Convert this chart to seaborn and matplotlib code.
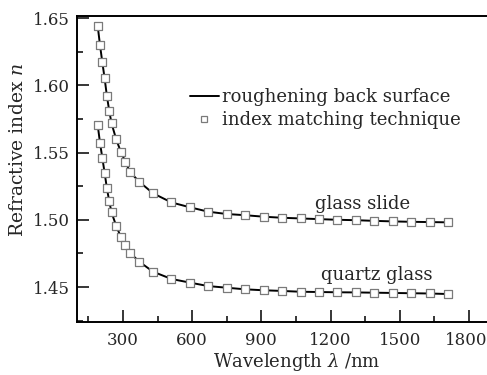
import numpy as np
import pandas as pd
import matplotlib
matplotlib.use("Agg")
import matplotlib.pyplot as plt
import matplotlib.transforms as mtransforms
from matplotlib.lines import Line2D
from matplotlib.ticker import MultipleLocator
import seaborn as sns

# wavelengths (nm) of the measured points, same for both samples
wavelength = [190, 200, 210, 220, 230, 240, 250, 270, 290, 310, 330, 370, 430, 510,
              590, 670, 750, 830, 910, 990, 1070, 1150, 1230, 1310, 1390, 1470,
              1550, 1630, 1710]

# refractive index
n_glass_slide = [1.6441, 1.6299, 1.6172, 1.6053, 1.5919, 1.5811, 1.5717, 1.5600,
                 1.5506, 1.5432, 1.5356, 1.5283, 1.5197, 1.5129, 1.5093, 1.5060,
                 1.5043, 1.5034, 1.5023, 1.5015, 1.5010, 1.5005, 1.5000, 1.4997,
                 1.4992, 1.4988, 1.4985, 1.4983, 1.4981]
n_quartz = [1.5704, 1.5573, 1.5461, 1.5350, 1.5233, 1.5139, 1.5055, 1.4956,
            1.4874, 1.4813, 1.4755, 1.4689, 1.4614, 1.4560, 1.4533, 1.4507,
            1.4495, 1.4483, 1.4476, 1.4471, 1.4465, 1.4463, 1.4461, 1.4460,
            1.4458, 1.4456, 1.4454, 1.4452, 1.4448]

x_ticks = [300, 600, 900, 1200, 1500, 1800]
y_ticks = [1.45, 1.50, 1.55, 1.60, 1.65]

sample_names = ["glass slide", "quartz glass"]
legend_labels = ["roughening back surface", "index matching technique"]

df = pd.concat([
    pd.DataFrame({"wavelength": wavelength, "n": n_glass_slide, "sample": sample_names[0]}),
    pd.DataFrame({"wavelength": wavelength, "n": n_quartz, "sample": sample_names[1]}),
])

sns.set_style("ticks")
plt.rcParams["font.family"] = ["DejaVu Serif"]
plt.rcParams["mathtext.fontset"] = "dejavuserif"
plt.rcParams["font.size"] = 13

fig = plt.figure(figsize=(4.87, 3.75), dpi=100)
ax = fig.add_axes([0.158, 0.1413, 0.852, 0.816])

# fitted curves
sns.lineplot(data=df, x="wavelength", y="n", hue="sample", palette=["black", "black"],
             estimator=None, linewidth=1.4, legend=False, ax=ax, zorder=2)
# measured points
sns.scatterplot(data=df, x="wavelength", y="n", marker="s", s=26, color="white",
                edgecolor="#7a7a7a", linewidth=0.9, legend=False, ax=ax, zorder=3)

ax.set_xlim(100, 1900)
ax.set_ylim(1.424, 1.6515)
ax.set_xticks(x_ticks)
ax.set_xticklabels([str(v) for v in x_ticks])
ax.set_yticks(y_ticks)
ax.set_yticklabels([f"{v:.2f}" for v in y_ticks])
ax.xaxis.set_minor_locator(MultipleLocator(150))
ax.yaxis.set_minor_locator(MultipleLocator(0.025))

ax.tick_params(which="major", direction="in", length=8.5, width=1.1, color="black",
               labelsize=12, top=False, right=False)
ax.tick_params(which="minor", direction="in", length=4.3, width=1.1, color="black",
               top=False, right=False)
ax.tick_params(axis="x", which="major", pad=7)
ax.tick_params(axis="y", which="major", pad=5)

# the last x label sits on the figure edge, nudge it in a little
last = ax.get_xticklabels()[-1]
last.set_transform(last.get_transform()
                   + mtransforms.ScaledTranslation(-3 / 100, 0, fig.dpi_scale_trans))

for side in ["left", "bottom", "top", "right"]:
    ax.spines[side].set_visible(True)
    ax.spines[side].set_linewidth(1.4)
    ax.spines[side].set_color("black")

ax.set_xlabel(r"Wavelength $\lambda$ /nm", fontsize=13)
ax.set_ylabel(r"Refractive index $n$", fontsize=13.5)
ax.xaxis.set_label_coords(0.53, -0.095)
ax.yaxis.set_label_coords(-0.12, 0.562)

ax.text(1340, 1.5120, sample_names[0], ha="center", va="center", fontsize=13)
ax.text(1399, 1.4589, sample_names[1], ha="center", va="center", fontsize=13)

handles = [
    Line2D([], [], color="black", linewidth=1.4),
    Line2D([], [], linestyle="none", marker="s", markersize=4, markerfacecolor="white",
           markeredgecolor="#7a7a7a", markeredgewidth=0.9),
]
ax.legend(handles, legend_labels, loc="upper left", bbox_to_anchor=(0.272, 0.765),
          frameon=False, fontsize=13, handlelength=1.6, handletextpad=0.2,
          labelspacing=0.3, borderpad=0, borderaxespad=0)

fig.savefig("out.png", dpi=100)
